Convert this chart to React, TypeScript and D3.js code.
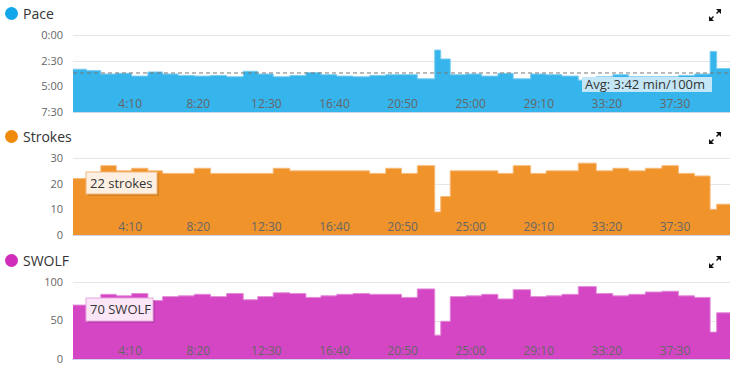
import * as d3 from "d3";

// per pool length (25 m): duration in seconds, stroke count and SWOLF
const lengthSeconds = [
  50, 52, 57, 56, 60, 54, 57, 59, 60, 59, 61, 53, 57, 61, 59, 55, 58, 60, 61, 59,
  58, 58, 64, 22, 35, 58, 57, 60, 56, 64, 57, 58, 60, 66, 61, 58, 61, 61, 61, 59,
  57, 24, 49,
];
const strokes = [
  22, 22, 27, 25, 26, 25, 24, 24, 26, 24, 24, 24, 24, 26, 25, 25, 25, 25, 25, 24,
  26, 24, 27, 9, 15, 25, 25, 25, 24, 27, 24, 25, 25, 28, 25, 26, 25, 26, 27, 24,
  23, 10, 12,
];
const swolf = [
  70, 70, 84, 82, 85, 76, 81, 82, 84, 81, 85, 77, 81, 86, 85, 80, 82, 84, 85, 84,
  84, 80, 91, 31, 49, 81, 82, 84, 78, 90, 81, 82, 84, 94, 85, 82, 84, 87, 88, 82,
  80, 35, 60,
];
const firstLengthStart = 40; // seconds on the clock where the chart begins
const avgPace = 222; // 3:42 min/100m
const paceTicks = [0, 150, 300, 450];
const strokeTicks = [0, 10, 20, 30];
const swolfTicks = [0, 50, 100];
const timeTickStep = 250;

const W = 737;
const H = 369;
const ML = 73;
const MR = 7;
const PH = 77;
const FONT = "'Open Sans', 'DejaVu Sans', sans-serif";

const fmtClock = (s: number) =>
  `${Math.floor(s / 60)}:${String(Math.round(s % 60)).padStart(2, "0")}`;

const starts = d3.cumsum([firstLengthStart, ...lengthSeconds]);
const tEnd = starts[starts.length - 1];

const x = d3
  .scaleLinear()
  .domain([firstLengthStart, tEnd])
  .range([ML, W - MR]);
const timeTicks = d3.range(timeTickStep, tEnd, timeTickStep);

const pace = lengthSeconds.map((s) => s * 4);

type Panel = {
  title: string;
  top: number;
  values: number[];
  domain: [number, number];
  inverted: boolean;
  ticks: number[];
  fmt: (v: number) => string;
  fill: string;
  line: string;
  dot: string;
};

const panels: Panel[] = [
  {
    title: "Pace",
    top: 35,
    values: pace,
    domain: [0, 450],
    inverted: true,
    ticks: paceTicks,
    fmt: fmtClock,
    fill: "#36b4ec",
    line: "#7acdf2",
    dot: "#13a6ea",
  },
  {
    title: "Strokes",
    top: 158,
    values: strokes,
    domain: [0, 30],
    inverted: false,
    ticks: strokeTicks,
    fmt: (v) => String(v),
    fill: "#f0932b",
    line: "#f6bb7c",
    dot: "#f08a0b",
  },
  {
    title: "SWOLF",
    top: 282,
    values: swolf,
    domain: [0, 100],
    inverted: false,
    ticks: swolfTicks,
    fmt: (v) => String(v),
    fill: "#d446c4",
    line: "#e38ad9",
    dot: "#d02dbb",
  },
];

function ExpandIcon({ x0, y0 }: { x0: number; y0: number }) {
  return (
    <g fill="#111" stroke="#111" strokeWidth={1.4}>
      <path d={`M${x0 + 12},${y0} L${x0 + 7},${y0} L${x0 + 12},${y0 + 5} Z`} stroke="none" />
      <line x1={x0 + 10} y1={y0 + 2} x2={x0 + 7.5} y2={y0 + 4.5} />
      <path d={`M${x0},${y0 + 12} L${x0 + 5},${y0 + 12} L${x0},${y0 + 7} Z`} stroke="none" />
      <line x1={x0 + 2} y1={y0 + 10} x2={x0 + 4.5} y2={y0 + 7.5} />
    </g>
  );
}

function PanelChart({ p }: { p: Panel }) {
  const bottom = p.top + PH;
  const y = d3
    .scaleLinear()
    .domain(p.domain)
    .range(p.inverted ? [p.top, bottom] : [bottom, p.top]);
  const pts = [
    ...p.values.map((v, i) => ({ t: starts[i], v })),
    { t: tEnd, v: p.values[p.values.length - 1] },
  ];
  const area = d3
    .area<{ t: number; v: number }>()
    .curve(d3.curveStepAfter)
    .x((d) => x(d.t))
    .y0(bottom)
    .y1((d) => y(d.v));
  const line = d3
    .line<{ t: number; v: number }>()
    .curve(d3.curveStepAfter)
    .x((d) => x(d.t))
    .y((d) => y(d.v));

  return (
    <g>
      <circle cx={11.5} cy={p.top - 21.5} r={6.5} fill={p.dot} />
      <text x={23} y={p.top - 16} fontSize={14} fill="#333">
        {p.title}
      </text>
      <ExpandIcon x0={709} y0={p.top - 26} />

      <g stroke="#e6e6e6">
        {p.ticks.map((t) => (
          <line key={t} x1={ML} x2={W - MR} y1={Math.round(y(t)) + 0.5} y2={Math.round(y(t)) + 0.5} />
        ))}
      </g>
      <g fill="#666" fontSize={11} textAnchor="end">
        {p.ticks.map((t) => (
          <text key={t} x={63} y={y(t)} dy="0.35em">
            {p.fmt(t)}
          </text>
        ))}
      </g>

      <path d={area(pts) ?? ""} fill={p.fill} />
      <path d={line(pts) ?? ""} fill="none" stroke={p.line} strokeWidth={1} />
      <line x1={ML} x2={W - MR} y1={bottom + 0.5} y2={bottom + 0.5} stroke="#ccd6eb" />

      <g fill="#666" fontSize={12} textAnchor="middle">
        {timeTicks.map((t) => (
          <text key={t} x={x(t)} y={bottom - 4}>
            {fmtClock(t)}
          </text>
        ))}
      </g>
    </g>
  );
}

export default function App() {
  const paceY = d3.scaleLinear().domain([0, 450]).range([panels[0].top, panels[0].top + PH]);
  const avgY = paceY(avgPace);
  return (
    <svg
      width={W}
      height={H}
      viewBox={`0 0 ${W} ${H}`}
      style={{ position: "absolute", left: 0, top: 0, fontFamily: FONT, background: "#fff" }}
    >
      {panels.map((p) => (
        <PanelChart key={p.title} p={p} />
      ))}

      {/* average pace */}
      <line
        x1={ML}
        x2={W - MR}
        y1={avgY}
        y2={avgY}
        stroke="#777"
        strokeWidth={1}
        strokeDasharray="4,3"
      />
      <rect x={582} y={avgY + 4} width={130} height={15} fill="#c3e7f6" />
      <text x={585} y={avgY + 16} fontSize={13} fill="#333">
        Avg: 3:42 min/100m
      </text>

      {/* hover labels on the first length */}
      <rect x={ML + 15} y={panels[1].top + 16} width={71} height={22} fill="#000" opacity={0.12} />
      <rect x={ML + 13} y={panels[1].top + 14} width={71} height={22} fill="#fdf0e3" stroke="#f2b57a" />
      <text x={ML + 17} y={panels[1].top + 29.5} fontSize={13} fill="#333">
        {`${strokes[0]} strokes`}
      </text>

      <rect x={ML + 15} y={panels[2].top + 18} width={67} height={23} fill="#000" opacity={0.12} />
      <rect x={ML + 13} y={panels[2].top + 16} width={67} height={23} fill="#fae6f7" stroke="#e7a6df" />
      <text x={ML + 17} y={panels[2].top + 32} fontSize={13} fill="#333">
        {`${swolf[0]} SWOLF`}
      </text>
    </svg>
  );
}
